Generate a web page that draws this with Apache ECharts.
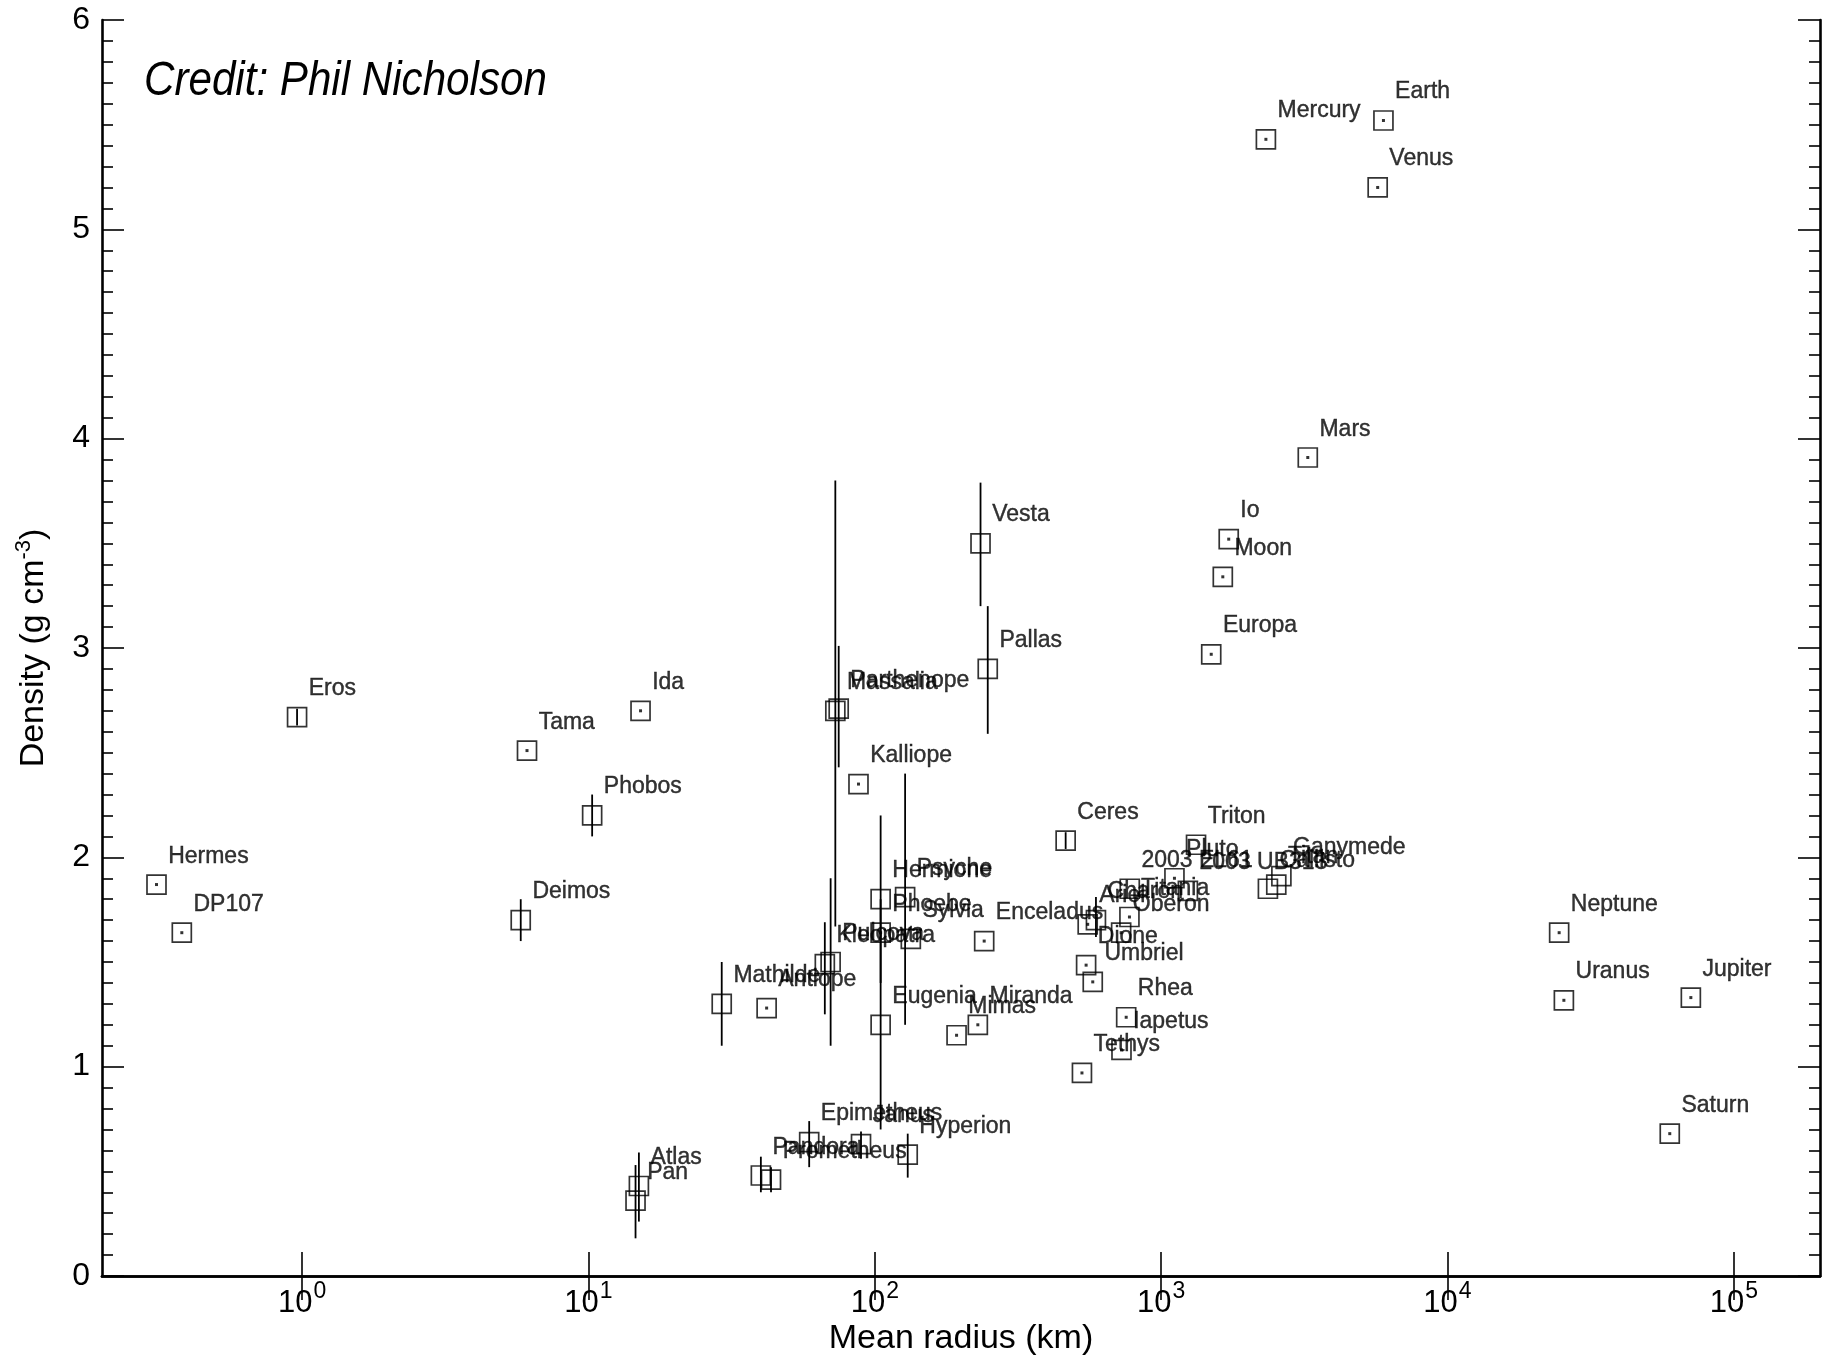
<!DOCTYPE html>
<html>
<head>
<meta charset="utf-8">
<title>Density vs mean radius</title>
<script src="https://cdn.jsdelivr.net/npm/echarts@6/dist/echarts.min.js"></script>
<style>
    html, body { margin: 0; padding: 0; background: #fff; }
    #main { width: 1824px; height: 1355px; }
</style>
</head>
<body>
<div id="main"></div>
<script>
// mean radius (km) and density (g cm^-3)
var names = ['Hermes', 'DP107', 'Eros', 'Tama', 'Ida', 'Phobos', 'Deimos', 'Mathilde', 'Antiope', 'Kleopatra',
    'Pulcova', 'Massalia', 'Parthenope', 'Kalliope', 'Hermione', 'Psyche', 'Phoebe', 'Sylvia', 'Eugenia', 'Vesta',
    'Pallas', 'Ceres', 'Mimas', 'Miranda', 'Enceladus', 'Tethys', 'Dione', 'Umbriel', 'Ariel', 'Charon',
    'Oberon', 'Titania', 'Rhea', 'Iapetus', 'Pluto', 'Triton', '2003 EL61', '2003 UB313', 'Callisto', 'Titan',
    'Ganymede', 'Io', 'Moon', 'Europa', 'Mars', 'Mercury', 'Earth', 'Venus', 'Neptune', 'Uranus',
    'Jupiter', 'Saturn', 'Atlas', 'Pan', 'Pandora', 'Prometheus', 'Epimetheus', 'Janus', 'Hyperion'];

var radius = [0.31, 0.38, 0.96, 6.1, 15.2, 10.3, 5.8, 29.2, 41.9, 66.9,
    70.1, 72.8, 74.8, 87.7, 104.8, 127.6, 104.8, 133.6, 104.8, 234,
    248, 464, 193, 229, 241, 529, 547, 577, 554, 592,
    725, 775, 755, 727, 1113, 1324, 777, 1240, 2360, 2524,
    2630, 1722, 1642, 1496, 3252, 2322, 5976, 5705, 24550, 25500,
    70790, 59750, 15.0, 14.6, 40.0, 43.4, 59.0, 89.5, 130.3];

var density = [1.87, 1.64, 2.67, 2.51, 2.70, 2.20, 1.70, 1.30, 1.28, 1.49,
    1.50, 2.70, 2.71, 2.35, 1.80, 1.81, 1.64, 1.61, 1.20, 3.50,
    2.90, 2.08, 1.15, 1.20, 1.60, 0.97, 1.485, 1.405, 1.68, 1.70,
    1.64, 1.715, 1.236, 1.08, 1.90, 2.06, 1.85, 1.84, 1.85, 1.87,
    1.91, 3.52, 3.34, 2.97, 3.91, 5.43, 5.52, 5.20, 1.64, 1.317,
    1.33, 0.68, 0.43, 0.36, 0.48, 0.46, 0.64, 0.63, 0.58];

// error bar ends, null where the plot has none
var errLow = [null, null, 2.63, null, null, 2.10, 1.60, 1.10, null, 1.25,
    1.10, 1.67, 2.43, null, 1.40, 1.20, null, null, 0.70, 3.20,
    2.59, 2.04, null, null, null, null, null, null, null, 1.62,
    null, null, null, null, null, null, null, null, null, null,
    null, null, null, null, null, null, null, null, null, null,
    null, null, 0.26, 0.18, 0.40, 0.40, 0.52, 0.56, 0.47];

var errHigh = [null, null, 2.71, null, null, 2.30, 1.80, 1.50, null, 1.69,
    1.90, 3.80, 3.01, null, 2.20, 2.40, null, null, 1.80, 3.79,
    3.20, 2.12, null, null, null, null, null, null, null, 1.81,
    null, null, null, null, null, null, null, null, null, null,
    null, null, null, null, null, null, null, null, null, null,
    null, null, 0.59, 0.53, 0.57, 0.52, 0.74, 0.69, 0.68];

// 1 = box drawn with a dot in the middle
var hasDot = [1, 1, 0, 1, 1, 0, 0, 0, 1, 0,
    0, 0, 0, 1, 0, 0, 1, 0, 0, 0,
    0, 0, 1, 1, 1, 1, 1, 1, 1, 0,
    1, 1, 1, 1, 1, 0, 0, 0, 0, 0,
    0, 1, 1, 1, 1, 1, 1, 1, 1, 1,
    1, 1, 0, 0, 0, 0, 0, 0, 0];

var decades = [1, 10, 100, 1000, 10000, 100000];

var ink = '#000';
var plain = "'Liberation Sans', Arial, sans-serif";

var boxes = [], dots = [], bars = [];
for (var i = 0; i < names.length; i++) {
    boxes.push({ name: names[i], value: [radius[i], density[i]] });
    if (hasDot[i]) dots.push([radius[i], density[i]]);
    if (errLow[i] !== null) bars.push([radius[i], errLow[i], errHigh[i]]);
}

var chart = echarts.init(document.getElementById('main'), null, { renderer: 'canvas' });

var tickLine = { color: ink, width: 1.6 };
var axisLine = { lineStyle: { color: ink, width: 2.6 } };

var option = {
    animation: false,
    backgroundColor: '#ffffff',
    grid: { left: 102, right: 4, top: 20, bottom: 79, containLabel: false, outerBoundsMode: 'none' },
    graphic: [{
        type: 'text',
        x: 144,
        y: 81,
        scaleX: 0.86,
        style: {
            text: 'Credit: Phil Nicholson',
            fontFamily: plain,
            fontStyle: 'italic',
            fontSize: 49,
            fill: ink,
            verticalAlign: 'middle',
            align: 'left'
        }
    }],
    xAxis: [{
        type: 'log',
        logBase: 10,
        min: 0.2,
        max: 200000,
        position: 'bottom',
        name: 'Mean radius (km)',
        nameLocation: 'middle',
        nameGap: 46,
        nameMoveOverlap: false,
        nameTextStyle: { fontFamily: plain, fontSize: 34, color: ink },
        axisLine: axisLine,
        axisTick: { inside: true, length: 24, lineStyle: tickLine, customValues: decades },
        minorTick: { show: false },
        splitLine: { show: false },
        axisLabel: {
            customValues: decades,
            margin: 10,
            formatter: function (v) {
                return '{b|10}{s|' + Math.round(Math.log10(v)) + '}';
            },
            rich: {
                b: { fontFamily: plain, fontSize: 31, color: ink, lineHeight: 34 },
                s: { fontFamily: plain, fontSize: 23, color: ink, lineHeight: 24, padding: [0, 0, 22, 1] }
            }
        }
    }, {
        type: 'log',
        logBase: 10,
        min: 0.2,
        max: 200000,
        position: 'top',
        axisLine: axisLine,
        axisTick: { inside: true, length: 24, lineStyle: tickLine, customValues: decades },
        axisLabel: { show: false },
        minorTick: { show: false },
        splitLine: { show: false }
    }],
    yAxis: [{
        type: 'value',
        min: 0,
        max: 6,
        interval: 1,
        position: 'left',
        name: '{n|Density (g cm}{s|-3}{n|)}',
        nameLocation: 'middle',
        nameGap: 50,
        nameMoveOverlap: false,
        nameTextStyle: {
            rich: {
                n: { fontFamily: plain, fontSize: 34, color: ink, lineHeight: 36 },
                s: { fontFamily: plain, fontSize: 22, color: ink, lineHeight: 22, padding: [0, 0, 20, 0] }
            }
        },
        axisLine: axisLine,
        axisTick: { inside: true, length: 22, lineStyle: tickLine },
        minorTick: { show: true, splitNumber: 10, length: 11, lineStyle: tickLine },
        splitLine: { show: false },
        axisLabel: { fontFamily: plain, fontSize: 32, color: ink, margin: 12 }
    }, {
        type: 'value',
        min: 0,
        max: 6,
        interval: 1,
        position: 'right',
        axisLine: axisLine,
        axisTick: { inside: true, length: 22, lineStyle: tickLine },
        minorTick: { show: true, splitNumber: 10, length: 11, lineStyle: tickLine },
        splitLine: { show: false },
        axisLabel: { show: false }
    }],
    series: [{
        name: 'error bars',
        type: 'custom',
        xAxisIndex: 0,
        yAxisIndex: 0,
        data: bars,
        encode: { x: 0, y: [1, 2] },
        silent: true,
        z: 1,
        renderItem: function (params, api) {
            var a = api.coord([api.value(0), api.value(1)]);
            var b = api.coord([api.value(0), api.value(2)]);
            return {
                type: 'line',
                shape: { x1: a[0], y1: a[1], x2: b[0], y2: b[1] },
                style: { stroke: ink, lineWidth: 1.8 }
            };
        }
    }, {
        name: 'bodies',
        type: 'scatter',
        xAxisIndex: 0,
        yAxisIndex: 0,
        data: boxes,
        symbol: 'rect',
        symbolSize: 19,
        itemStyle: { color: 'rgba(255,255,255,0)', borderColor: ink, borderWidth: 1.7 },
        label: {
            show: true,
            formatter: '{b}',
            position: [22, -18],
            align: 'left',
            verticalAlign: 'middle',
            fontFamily: plain,
            fontSize: 23,
            color: ink,
            textBorderColor: ink,
            textBorderWidth: 0.4
        },
        emphasis: { disabled: true },
        z: 3
    }, {
        name: 'centres',
        type: 'scatter',
        xAxisIndex: 0,
        yAxisIndex: 0,
        data: dots,
        symbol: 'rect',
        symbolSize: 3,
        itemStyle: { color: ink },
        silent: true,
        z: 4
    }]
};

chart.setOption(option);
</script>
</body>
</html>
